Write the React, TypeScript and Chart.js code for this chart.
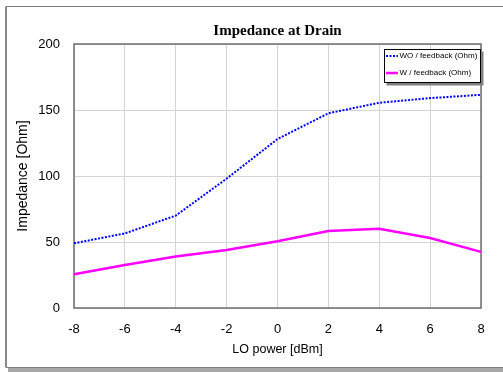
import React, { useEffect, useRef } from "react";
import { Chart, registerables } from "chart.js";

Chart.register(...registerables);

const loPower = ["-8", "-6", "-4", "-2", "0", "2", "4", "6", "8"];
const woFeedback = [49, 56.5, 70, 98, 128, 147.5, 155.5, 159, 161.5];
const wFeedback = [25.5, 32.5, 39, 44, 50.5, 58.3, 60, 53, 42.5];
const seriesNames = ["WO / feedback (Ohm)", "W / feedback (Ohm)"];
const titleText = "Impedance at Drain";
const xTitle = "LO power [dBm]";
const yTitle = "Impedance [Ohm]";

const framePlugin = {
  id: "frame",
  beforeDraw(chart: any) {
    const ctx = chart.ctx;
    ctx.save();
    ctx.fillStyle = "#ffffff";
    ctx.fillRect(0, 0, chart.width, chart.height);
    // shadow
    ctx.fillStyle = "#a6a6a6";
    ctx.fillRect(8, 368, chart.width, 4);
    ctx.strokeStyle = "#8a8a8a";
    ctx.lineWidth = 2;
    ctx.beginPath();
    ctx.moveTo(6, 367.5);
    ctx.lineTo(6, 6.5);
    ctx.stroke();
    ctx.strokeStyle = "#7f7f7f";
    ctx.lineWidth = 1;
    ctx.beginPath();
    ctx.moveTo(6, 6.5);
    ctx.lineTo(chart.width + 2, 6.5);
    ctx.moveTo(6, 367.5);
    ctx.lineTo(chart.width + 2, 367.5);
    ctx.stroke();
    // title
    const a = chart.chartArea;
    ctx.fillStyle = "#000";
    ctx.font = "bold 15px 'Liberation Serif', 'Times New Roman', serif";
    ctx.textAlign = "center";
    ctx.textBaseline = "middle";
    ctx.fillText(titleText, (a.left + a.right) / 2, 31);
    ctx.restore();
  },
  beforeDatasetsDraw(chart: any) {
    const ctx = chart.ctx;
    const a = chart.chartArea;
    ctx.save();
    ctx.strokeStyle = "#6e6e6e";
    ctx.lineWidth = 1.5;
    ctx.strokeRect(a.left, a.top, a.right - a.left, a.bottom - a.top);
    ctx.restore();
  },
  afterDraw(chart: any) {
    const ctx = chart.ctx;
    ctx.save();
    const bx = 384.5, by = 49.5, bw = 96, bh = 33;
    ctx.fillStyle = "#808080";
    ctx.fillRect(bx + 2, by + 2, bw + 1, bh + 1);
    ctx.fillStyle = "#ffffff";
    ctx.fillRect(bx, by, bw, bh);
    ctx.strokeStyle = "#000";
    ctx.lineWidth = 1;
    ctx.strokeRect(bx, by, bw, bh);
    const ds = chart.data.datasets;
    const rows = [56, 73];
    ds.forEach((d: any, i: number) => {
      const y = rows[i];
      ctx.beginPath();
      ctx.strokeStyle = d.borderColor;
      ctx.lineWidth = d.borderWidth;
      ctx.setLineDash(d.borderDash || []);
      ctx.moveTo(386, y);
      ctx.lineTo(398, y);
      ctx.stroke();
      ctx.setLineDash([]);
      ctx.fillStyle = "#000";
      ctx.font = "8px 'Liberation Sans', Arial, sans-serif";
      ctx.textAlign = "left";
      ctx.textBaseline = "middle";
      ctx.fillText(d.label, 399.5, y);
    });
    ctx.restore();
  },
};

export default function App() {
  const ref = useRef<HTMLCanvasElement | null>(null);
  useEffect(() => {
    if (!ref.current) return;
    const font = "'Liberation Sans', Arial, sans-serif";
    const chart = new Chart(ref.current, {
      type: "line",
      data: {
        labels: loPower,
        datasets: [
          {
            label: seriesNames[0],
            data: woFeedback,
            borderColor: "#0000ff",
            borderWidth: 2,
            borderDash: [2, 1.5],
            pointRadius: 0,
            tension: 0,
            fill: false,
          },
          {
            label: seriesNames[1],
            data: wFeedback,
            borderColor: "#ff00ff",
            borderWidth: 2.5,
            pointRadius: 0,
            tension: 0,
            fill: false,
          },
        ],
      },
      options: {
        animation: false,
        responsive: false,
        maintainAspectRatio: false,
        layout: { padding: { top: 44, right: 22, left: 0, bottom: 0 } },
        plugins: {
          legend: { display: false },
          title: { display: false },
          tooltip: { enabled: false },
        },
        scales: {
          x: {
            type: "category",
            offset: false,
            afterFit: (s: any) => {
              s.height = 64;
            },
            grid: { color: "#d4d4d4", lineWidth: 1, drawTicks: false },
            border: { display: false },
            ticks: {
              color: "#000",
              padding: 14,
              maxRotation: 0,
              autoSkip: false,
              font: { family: font, size: 13 },
            },
            title: {
              display: true,
              text: xTitle,
              color: "#000",
              font: { family: font, size: 12.5 },
              padding: { top: 0, bottom: 14.5 },
            },
          },
          y: {
            min: 0,
            max: 200,
            afterFit: (s: any) => {
              s.width = 74;
            },
            grid: { color: "#d4d4d4", lineWidth: 1, drawTicks: false },
            border: { display: false },
            ticks: {
              stepSize: 50,
              color: "#000",
              padding: 14,
              font: { family: font, size: 13 },
            },
            title: {
              display: true,
              text: yTitle,
              color: "#000",
              font: { family: font, size: 14 },
              padding: { top: 14.5, bottom: 0 },
            },
          },
        },
      },
      plugins: [framePlugin],
    } as any);
    return () => chart.destroy();
  }, []);
  return (
    <div style={{ position: "absolute", left: 0, top: 0, width: 503, height: 372 }}>
      <canvas ref={ref} width={503} height={372} style={{ width: 503, height: 372 }} />
    </div>
  );
}
